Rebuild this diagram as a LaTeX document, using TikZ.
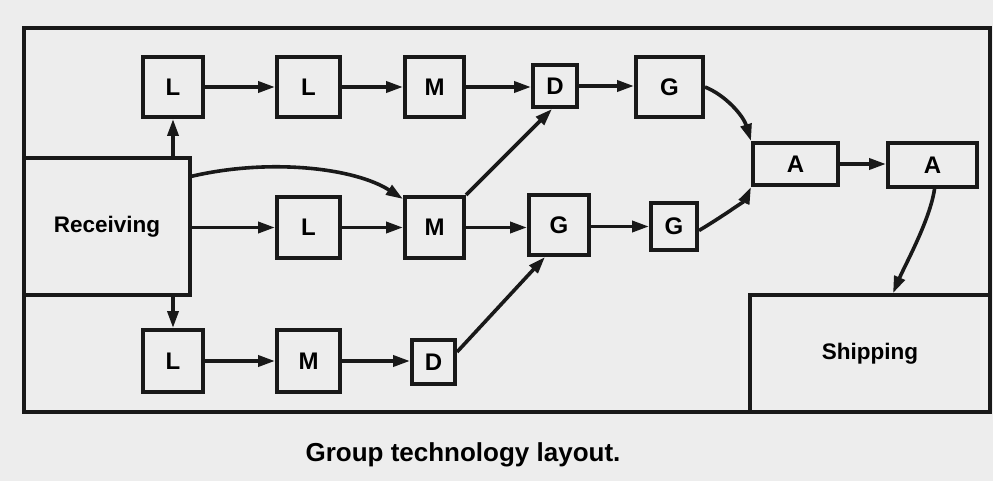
\documentclass[tikz,border=0pt]{standalone}
\usepackage{fontspec}
\setmainfont{Liberation Sans}
\usetikzlibrary{arrows.meta}
\begin{document}
\begin{tikzpicture}[x=1pt,y=-1pt,
  box/.style={draw=black!90, line width=4pt, inner sep=0pt, font=\bfseries\fontsize{24}{24}\selectfont},
  bigbox/.style={box, line width=3.5pt, font=\bfseries\fontsize{22.5}{22.5}\selectfont},
  conn/.style={line width=3.6pt, draw=black!90, -{Triangle[length=17pt,width=11pt]}},
  frame/.style={draw=black!90, line width=3.5pt}]
\fill[gray!14] (0,0) rectangle (993,481);
\useasboundingbox (0,0) rectangle (993,481);
\draw[frame] (24,28) rectangle (990,412);
% big boxes
\node[bigbox, minimum width=166pt, minimum height=137pt] (rec) at (107,226.5) {Receiving};
\node[bigbox, minimum width=240pt, minimum height=117pt] (ship) at (870,353.5) {Shipping};
% top row
\node[box, minimum width=60pt, minimum height=60pt] (L1) at (173,87) {L};
\node[box, minimum width=63pt, minimum height=60pt] (L2) at (308.5,87) {L};
\node[box, minimum width=59pt, minimum height=60pt] (M1) at (434.5,87) {M};
\node[box, minimum width=44pt, minimum height=42pt] (D1) at (555,86) {D};
\node[box, minimum width=67pt, minimum height=60pt] (G1) at (669.5,87) {G};
% middle row
\node[box, minimum width=63pt, minimum height=61pt] (L3) at (308.5,227.5) {L};
\node[box, minimum width=59pt, minimum height=61pt] (M2) at (434.5,227.5) {M};
\node[box, minimum width=60pt, minimum height=60pt] (G2) at (559,225) {G};
\node[box, minimum width=46pt, minimum height=47pt] (G3) at (674,226.5) {G};
\node[box, minimum width=85pt, minimum height=42pt] (A1) at (795.5,164) {A};
\node[box, minimum width=89pt, minimum height=44pt] (A2) at (932.5,165) {A};
% bottom row
\node[box, minimum width=60pt, minimum height=62pt] (L4) at (173,361) {L};
\node[box, minimum width=63pt, minimum height=62pt] (M3) at (308.5,361) {M};
\node[box, minimum width=43pt, minimum height=44pt] (D2) at (433.5,362) {D};
% caption
\node[font=\bfseries\fontsize{26}{26}\selectfont] (cap) at (463,455) {Group technology layout.};
% connectors
\draw[conn] (L1.south |- rec.north) -- (L1.south);
\draw[conn] (L4.north |- rec.south) -- (L4.north);
\draw[conn] (L1.east) -- (L2.west);
\draw[conn] (L2.east) -- (M1.west);
\draw[conn] (M1.east) -- (M1.east -| D1.west);
\draw[conn] (D1.east) -- (D1.east -| G1.west);
\draw[conn] (G1.east) .. controls (725,95) and (743,115) .. (A1.north west);
\draw[conn] ([yshift=-20pt]rec.north east) .. controls (270,158) and (355,168) .. ([yshift=-4pt]M2.north west);
\draw[conn] (rec.east |- L3.west) -- (L3.west);
\draw[conn] (L3.east) -- (M2.west);
\draw[conn] (M2.east) -- (M2.east -| G2.west);
\draw[conn] (G2.east |- G3.west) -- (G3.west);
\draw[conn] ([yshift=-4pt]G3.east) .. controls (725,215) and (745,200) .. (A1.south west);
\draw[conn] (M2.north east) -- ([xshift=-3pt]D1.south);
\draw[conn] ([yshift=10pt]D2.east) -- ([xshift=-14pt]G2.south);
\draw[conn] (A1.east) -- (A2.west |- A1.east);
\draw[conn] ([xshift=2pt]A2.south) .. controls (930,220) and (905,265) .. ([xshift=23pt]ship.north);
\draw[conn] (L4.east) -- (M3.west);
\draw[conn] (M3.east) -- (M3.east -| D2.west);
\end{tikzpicture}
\end{document}
